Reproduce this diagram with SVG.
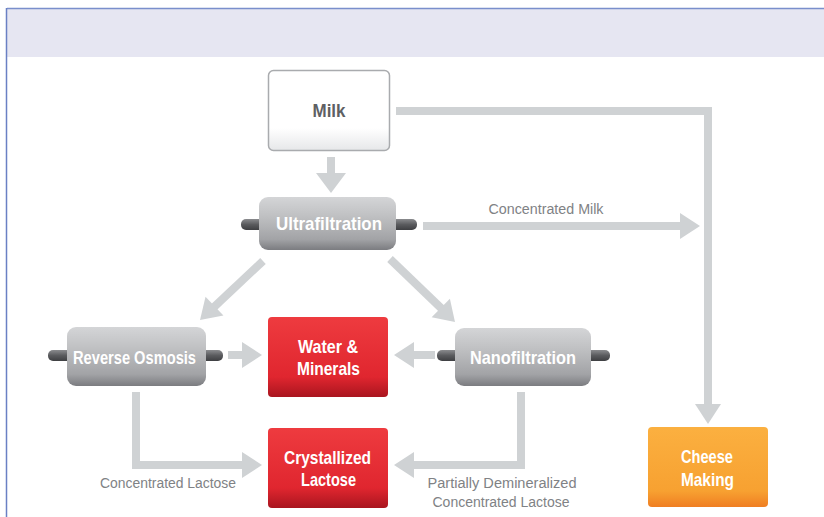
<svg xmlns="http://www.w3.org/2000/svg" width="824" height="517" viewBox="0 0 824 517">
  <defs>
    <linearGradient id="gCyl" x1="0" y1="0" x2="0" y2="1">
      <stop offset="0" stop-color="#d4d5d7"/>
      <stop offset="0.35" stop-color="#c0c1c3"/>
      <stop offset="0.8" stop-color="#a2a3a6"/>
      <stop offset="1" stop-color="#7b7c80"/>
    </linearGradient>
    <linearGradient id="gPin" x1="0" y1="0" x2="0" y2="1">
      <stop offset="0" stop-color="#8a8b8e"/>
      <stop offset="0.5" stop-color="#5a5b5e"/>
      <stop offset="1" stop-color="#3e3f42"/>
    </linearGradient>
    <linearGradient id="gRed" x1="0" y1="0" x2="0" y2="1">
      <stop offset="0" stop-color="#ee3b3f"/>
      <stop offset="0.75" stop-color="#e0262f"/>
      <stop offset="1" stop-color="#a9151f"/>
    </linearGradient>
    <linearGradient id="gOrange" x1="0" y1="0" x2="0" y2="1">
      <stop offset="0" stop-color="#fbb040"/>
      <stop offset="0.8" stop-color="#f7a131"/>
      <stop offset="1" stop-color="#ef7e22"/>
    </linearGradient>
    <linearGradient id="gWhite" x1="0" y1="0" x2="0" y2="1">
      <stop offset="0" stop-color="#ffffff"/>
      <stop offset="0.72" stop-color="#ffffff"/>
      <stop offset="1" stop-color="#e6e7e9"/>
    </linearGradient>
    <!-- arrowhead pointing right, tip at the origin -->
    <path id="ah" d="M0,0 L-20,-13 L-20,13 Z" fill="#cfd2d4"/>
    <path id="ahWide" d="M0,0 L-20,-15 L-20,15 Z" fill="#cfd2d4"/>
  </defs>
  <style>
    .conn { fill: none; stroke: #cfd2d4; stroke-width: 8; stroke-linejoin: miter; }
    .cyl { fill: url(#gCyl); }
    .pin { fill: url(#gPin); }
    .title { font-family: "Liberation Sans", Arial, sans-serif; font-weight: bold; font-size: 18.5px; text-anchor: middle; }
    .wt { fill: #ffffff; }
    .lbl { font-family: "Liberation Sans", Arial, sans-serif; font-size: 14px; fill: #808285; text-anchor: middle; }
  </style>

  <!-- page frame and header band -->
  <rect x="0" y="0" width="824" height="517" fill="#ffffff"/>
  <rect x="7" y="8" width="817" height="49" fill="#e6e6f2"/>
  <line x1="7" y1="8.5" x2="824" y2="8.5" stroke="#7a8fcc" stroke-width="1.5"/>
  <line x1="6.5" y1="8" x2="6.5" y2="517" stroke="#6a80c4" stroke-width="1.5"/>

  <!-- connectors -->
  <g id="connectors">
    <path class="conn" d="M331,157 L331,175" stroke-width="10"/>
    <use href="#ahWide" transform="translate(331,193) rotate(90)"/>

    <path class="conn" d="M396,111 L708,111 L708,406"/>
    <use href="#ah" transform="translate(708,424) rotate(90)"/>

    <path class="conn" d="M423,226 L682,226"/>
    <use href="#ah" transform="translate(700,226)"/>

    <path class="conn" d="M263,261 L213,308"/>
    <use href="#ah" transform="translate(200,320) rotate(136.4)"/>

    <path class="conn" d="M390,259 L442,309"/>
    <use href="#ah" transform="translate(455,322) rotate(44.6)"/>

    <path class="conn" d="M228,355 L245,355" stroke-width="10"/>
    <use href="#ah" transform="translate(262,355)"/>

    <path class="conn" d="M435,355 L412,355" stroke-width="10"/>
    <use href="#ah" transform="translate(394,355) rotate(180)"/>

    <path class="conn" d="M136,392 L136,465 L245,465"/>
    <use href="#ah" transform="translate(262,465)"/>

    <path class="conn" d="M521,392 L521,465 L412,465"/>
    <use href="#ah" transform="translate(394,465) rotate(180)"/>

    <text class="lbl" x="546" y="214" textLength="115" lengthAdjust="spacingAndGlyphs">Concentrated Milk</text>
    <text class="lbl" x="168" y="488" textLength="136" lengthAdjust="spacingAndGlyphs">Concentrated Lactose</text>
    <text class="lbl" x="502" y="488" textLength="149" lengthAdjust="spacingAndGlyphs">Partially Demineralized</text>
    <text class="lbl" x="501" y="507" textLength="137" lengthAdjust="spacingAndGlyphs">Concentrated Lactose</text>
  </g>

  <!-- Milk -->
  <g id="milk">
    <rect x="268.5" y="70.5" width="121" height="80" rx="5" fill="url(#gWhite)" stroke="#a9abae" stroke-width="1.5"/>
    <text class="title" x="329" y="117" fill="#5e6063" textLength="33" lengthAdjust="spacingAndGlyphs">Milk</text>
  </g>

  <!-- Ultrafiltration -->
  <g id="ultrafiltration">
    <rect class="pin" x="241" y="219" width="26" height="11" rx="5"/>
    <rect class="pin" x="390" y="219" width="27" height="11" rx="5"/>
    <rect class="cyl" x="259" y="197" width="137" height="53" rx="9"/>
    <text class="title wt" x="329" y="230" textLength="106" lengthAdjust="spacingAndGlyphs">Ultrafiltration</text>
  </g>

  <!-- Reverse Osmosis -->
  <g id="reverse-osmosis">
    <rect class="pin" x="48" y="350" width="26" height="11" rx="5"/>
    <rect class="pin" x="198" y="350" width="25" height="11" rx="5"/>
    <rect class="cyl" x="67" y="327" width="139" height="59" rx="9"/>
    <text class="title wt" x="134.5" y="363.5" textLength="123" lengthAdjust="spacingAndGlyphs">Reverse Osmosis</text>
  </g>

  <!-- Nanofiltration -->
  <g id="nanofiltration">
    <rect class="pin" x="437" y="350" width="26" height="11" rx="5"/>
    <rect class="pin" x="584" y="350" width="26" height="11" rx="5"/>
    <rect class="cyl" x="455" y="328" width="136" height="58" rx="9"/>
    <text class="title wt" x="523" y="363.5" textLength="106" lengthAdjust="spacingAndGlyphs">Nanofiltration</text>
  </g>

  <!-- Water & Minerals -->
  <g id="water-minerals">
    <rect x="268" y="317" width="120" height="80" rx="4" fill="url(#gRed)"/>
    <text class="title wt" x="328" y="353" textLength="60" lengthAdjust="spacingAndGlyphs">Water &amp;</text>
    <text class="title wt" x="328.5" y="375" textLength="63" lengthAdjust="spacingAndGlyphs">Minerals</text>
  </g>

  <!-- Crystallized Lactose -->
  <g id="crystallized-lactose">
    <rect x="268" y="428" width="120" height="80" rx="4" fill="url(#gRed)"/>
    <text class="title wt" x="327.5" y="464" textLength="87" lengthAdjust="spacingAndGlyphs">Crystallized</text>
    <text class="title wt" x="328.5" y="486" textLength="55" lengthAdjust="spacingAndGlyphs">Lactose</text>
  </g>

  <!-- Cheese Making -->
  <g id="cheese-making">
    <rect x="648" y="427" width="120" height="80" rx="4" fill="url(#gOrange)"/>
    <text class="title wt" x="707" y="463" textLength="52" lengthAdjust="spacingAndGlyphs">Cheese</text>
    <text class="title wt" x="707.5" y="486" textLength="53" lengthAdjust="spacingAndGlyphs">Making</text>
  </g>
</svg>
